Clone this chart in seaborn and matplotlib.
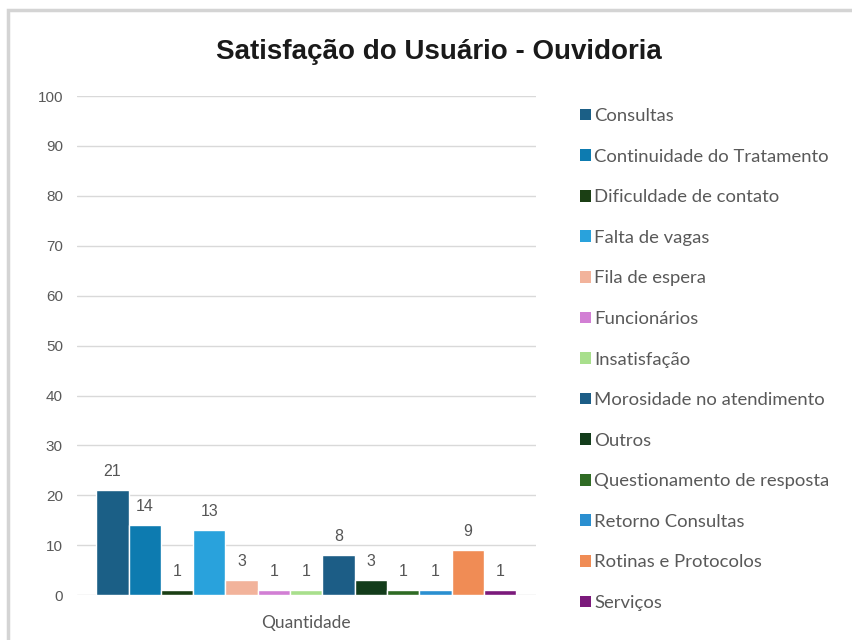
import matplotlib
matplotlib.use("Agg")
import matplotlib.pyplot as plt
import seaborn as sns
import pandas as pd
from matplotlib.patches import Rectangle, Patch

# dados
categorias = ['Consultas', 'Continuidade do Tratamento', 'Dificuldade de contato',
              'Falta de vagas', 'Fila de espera', 'Funcionários', 'Insatisfação',
              'Morosidade no atendimento', 'Outros', 'Questionamento de resposta',
              'Retorno Consultas', 'Rotinas e Protocolos', 'Serviços']
valores = [21, 14, 1, 13, 3, 1, 1, 8, 3, 1, 1, 9, 1]
cores = ['#1b5f86', '#0d7bb0', '#1b3f14', '#29a2dc', '#f2b39b', '#d27fd4', '#a8df8c',
         '#1c5d86', '#133c1b', '#2f6b24', '#2a8fd0', '#f08c55', '#7b1a7b']
yticks = [0, 10, 20, 30, 40, 50, 60, 70, 80, 90, 100]

df = pd.DataFrame({'grupo': 'Quantidade', 'categoria': categorias, 'valor': valores})

sns.set_style("white")
plt.rcParams['font.family'] = ['Liberation Sans', 'DejaVu Sans']

fig = plt.figure(figsize=(8.53, 6.4), dpi=100)
ax = fig.add_axes([0.09, 0.07, 0.538, 0.78])

sns.barplot(data=df, x='grupo', y='valor', hue='categoria', hue_order=categorias,
            palette=cores, width=0.915, ax=ax, legend=False, saturation=1)

for c in ax.containers:
    ax.bar_label(c, padding=8, color='#555555', fontsize=11.5)

ax.set_ylim(0, 100)
ax.set_xlim(-0.5, 0.5)
ax.set_yticks(yticks)
ax.yaxis.grid(True, color='#d9d9d9', linewidth=1)
ax.set_axisbelow(True)
for s in ax.spines.values():
    s.set_visible(False)
ax.tick_params(axis='y', colors='#595959', labelsize=11, length=0, pad=10)
ax.tick_params(axis='x', colors='#595959', length=0, pad=14)
for t in ax.get_xticklabels():
    t.set_fontfamily(['Lato', 'DejaVu Sans'])
    t.set_fontsize(12.5)
ax.set_xlabel('')
ax.set_ylabel('')

fig.text(0.514, 0.918, 'Satisfação do Usuário - Ouvidoria', ha='center', va='center',
         fontsize=20, fontweight='bold', color='#1a1a1a')

handles = [Patch(facecolor=c, edgecolor='none') for c in cores]
leg = fig.legend(handles, categorias, loc='upper left', bbox_to_anchor=(0.66, 0.857),
                 frameon=False, labelspacing=1.33,
                 handlelength=0.6, handleheight=0.6, handletextpad=0.2,
                 prop={'family': ['Lato', 'DejaVu Sans'], 'size': 13.3})
for t in leg.get_texts():
    t.set_color('#595959')

# moldura cinza do gráfico
fig.patches.append(Rectangle((0.009, -0.01), 1.0, 0.995, transform=fig.transFigure,
                             fill=False, edgecolor='#d4d4d4', linewidth=2.5))

fig.savefig('out.png', dpi=100)
